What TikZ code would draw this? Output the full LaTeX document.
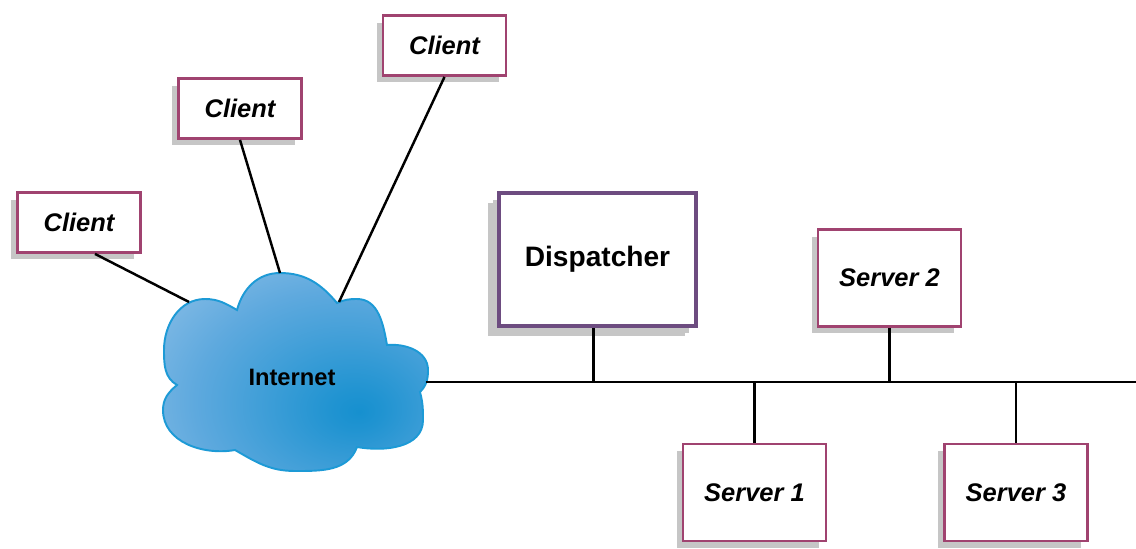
\documentclass[tikz,border=0pt]{standalone}
\usepackage{fontspec}
\setmainfont{Liberation Sans}
\usetikzlibrary{shadows}

\definecolor{boxred}{HTML}{A04370}
\definecolor{boxpurple}{HTML}{6D4C80}
\definecolor{shadowgray}{HTML}{C6C6C6}
\definecolor{cloudline}{HTML}{1D9AD6}
\definecolor{cloudin}{HTML}{1690CF}
\definecolor{cloudmid}{HTML}{5EA9DE}
\definecolor{cloudout}{HTML}{C0D8F1}
\pgfdeclareradialshading{cloudfill}{\pgfpoint{12bp}{-10bp}}{color(0bp)=(cloudin); color(5bp)=(cloudin!85!cloudmid); color(28bp)=(cloudmid); color(62bp)=(cloudout); color(110bp)=(cloudout)}

\newcommand{\italfont}{\fontsize{14.5}{17}\selectfont\bfseries\itshape}

\begin{document}
\begin{tikzpicture}[x=0.02cm,y=0.02cm]
\tikzstyle{every node}+=[inner sep=0pt]
\tikzstyle{client}=[draw=boxred, line width=1.6pt, fill=white, minimum width=2.46cm, minimum height=1.2cm, font=\italfont, drop shadow={shadow xshift=-0.13cm, shadow yshift=-0.14cm, opacity=1, fill=shadowgray}]
\tikzstyle{server}=[client, minimum width=2.86cm, minimum height=1.94cm]
\tikzstyle{dispatch}=[client, draw=boxpurple, line width=2.4pt, minimum width=3.94cm, minimum height=2.66cm, font=\fontsize{16}{19}\selectfont\bfseries, drop shadow={shadow xshift=-0.22cm, shadow yshift=-0.2cm, opacity=1, fill=shadowgray}]
\tikzstyle{wire}=[black, line width=1.4pt]
\useasboundingbox (0,0) rectangle (1136,-548);

% the cloud, one lobe after the other
\shadedraw[shading=cloudfill, draw=cloudline, line width=1.1pt]
  (237,-310) to[out=75,in=180] (280,-273) to[out=0,in=130] (337,-303)
  to[out=25,in=180] (357,-299) to[out=0,in=100] (387,-345)
  to[out=5,in=90] (428,-370) to[out=-90,in=45] (420,-392)
  to[out=-75,in=90] (423,-420) to[out=-90,in=-10] (357,-447)
  to[out=-110,in=0] (295,-471) to[out=180,in=-30] (235,-450)
  to[out=-170,in=-90] (163,-410) to[out=90,in=-140] (177,-385)
  to[out=150,in=-90] (164,-350) to[out=90,in=180] (205,-299) to[out=0,in=150] cycle;
\node (internet) at (292,-377) {\fontsize{13.5}{16}\selectfont\bfseries Internet};
\coordinate (net1) at (189,-302);
\coordinate (net2) at (280,-273);
\coordinate (net3) at (339,-302);
\coordinate (busL) at (426,-382);
\coordinate (busR) at (1136,-382);

% clients
\node[client] (client1) at (79,-222.5) {Client};
\node[client] (client2) at (240,-108.5) {Client};
\node[client] (client3) at (444.5,-45.5) {Client};
\draw[wire] ([xshift=0.32cm]client1.south) -- (net1);
\draw[wire] (client2.south) -- (net2);
\draw[wire] (client3.south) -- (net3);

% dispatcher and servers
\node[dispatch] (disp) at (597.5,-259.5) {Dispatcher};
\node[server] (server2) at (889.5,-278) {Server 2};
\node[server] (server1) at (754.5,-492.5) {Server 1};
\node[server] (server3) at (1016,-492.5) {Server 3};
\draw[wire] (busL) -- (busR);
\draw[wire] ([xshift=-0.08cm]disp.south) -- ([xshift=-0.08cm]disp.south |- busL);
\draw[wire] (server2.south) -- (server2.south |- busL);
\draw[wire] (server1.north) -- (server1.north |- busL);
\draw[wire] (server3.north) -- (server3.north |- busL);
\end{tikzpicture}
\end{document}
